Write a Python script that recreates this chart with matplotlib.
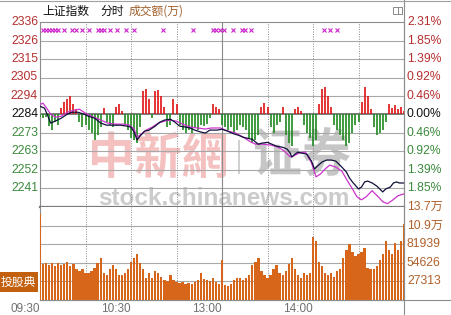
import numpy as np
import matplotlib
matplotlib.use("Agg")
from matplotlib import pyplot as plt
from matplotlib import transforms
from matplotlib.lines import Line2D
from matplotlib.patches import Rectangle, PathPatch
from matplotlib.textpath import TextPath
from matplotlib.font_manager import FontProperties

W, H = 452, 315

# 上证指数 intraday, minutes counted from 09:30 (0..240)
prev_close = 2283.9
price_step = 10.56

price_min = [0, 3, 5, 7, 10, 14, 18, 21, 25, 29, 32, 36, 40, 44, 48, 53, 57, 60, 62, 64,
             66, 69, 72, 76, 79, 82, 86, 89, 92, 96, 99, 102, 106, 109, 112, 117, 120, 124, 127, 131,
             134, 137, 140, 144, 146, 150, 153, 156, 160, 163, 165, 166, 168, 170, 173, 176, 179, 181, 183, 186,
             189, 192, 195, 197, 199, 202, 204, 206, 210, 212, 214, 216, 219, 222, 224, 226, 228, 231, 233, 235,
             237, 240]
price_val = [2288.6, 2287.5, 2283.5, 2279.0, 2280.1, 2281.8, 2284.1, 2285.2, 2285.2, 2284.1,
             2282.9, 2281.8, 2279.0, 2277.8, 2277.8, 2277.8, 2277.3, 2276.7, 2273.9, 2269.4,
             2271.6, 2274.4, 2275.0, 2277.3, 2279.5, 2280.7, 2281.2, 2279.5, 2277.3, 2276.7,
             2276.2, 2275.0, 2273.9, 2273.3, 2275.0, 2275.0, 2275.5, 2274.3, 2273.1, 2272.0,
             2270.9, 2270.3, 2269.7, 2266.9, 2267.5, 2268.0, 2266.9, 2265.8, 2265.2, 2264.1,
             2261.8, 2259.6, 2261.2, 2262.4, 2261.8, 2261.2, 2257.3, 2252.8, 2254.5, 2256.8,
             2257.9, 2257.9, 2257.3, 2255.6, 2253.9, 2251.1, 2247.7, 2245.4, 2241.4, 2242.5,
             2245.4, 2245.9, 2244.8, 2243.1, 2241.4, 2239.7, 2241.4, 2242.5, 2244.8, 2245.4,
             2244.8, 2244.8]

avg_min = [0, 2, 4, 7, 10, 14, 18, 22, 26, 30, 34, 40, 45, 50, 55, 59, 62, 64, 66, 70,
           74, 78, 82, 86, 90, 94, 99, 104, 109, 113, 119, 124, 129, 134, 138, 142, 146, 152, 157, 161,
           165, 167, 171, 175, 179, 182, 185, 188, 191, 195, 199, 202, 206, 209, 212, 215, 219, 223, 226, 229,
           232, 236, 240]
avg_val = [2289.7, 2290.3, 2288.0, 2284.1, 2282.4, 2282.9, 2285.2, 2286.3, 2286.9, 2284.6,
           2282.9, 2280.7, 2278.9, 2278.4, 2278.4, 2277.8, 2275.6, 2271.0, 2272.2, 2275.0,
           2276.7, 2279.0, 2280.1, 2280.7, 2280.1, 2278.4, 2276.7, 2276.2, 2275.6, 2276.2,
           2276.2, 2274.4, 2273.3, 2271.0, 2268.7, 2267.0, 2267.0, 2266.5, 2265.3, 2263.1,
           2259.7, 2260.2, 2261.9, 2262.5, 2256.3, 2248.3, 2250.0, 2252.8, 2255.0, 2253.9,
           2251.6, 2247.1, 2241.4, 2236.9, 2235.2, 2236.9, 2240.4, 2236.9, 2234.1, 2233.0,
           2234.7, 2237.5, 2238.6]

# buy/sell strength bars, every 2 minutes (index points from prev close)
strength = [-1.5, -2.2, -1.5, -6.6, -8.8, -4.4, -6.0, 3.8, 7.4, 8.8,
            10.4, 6.0, 3.0, -4.4, -7.4, -6.0, -8.8, -10.4, -14.8, -11.8,
            -7.4, 3.8, -4.4, -6.0, -7.4, 4.4, 6.0, 2.2, -6.0, -8.8,
            -13.4, -14.8, -16.3, -7.4, 13.4, 14.8, 8.8, -2.2, 13.4, 14.0,
            10.4, 4.4, -7.4, -6.0, 8.8, 6.0, -6.0, -8.8, -10.4, -8.8,
            -10.4, -7.4, -8.8, -6.0, -6.6, -5.2, -2.2, 6.0, 4.4, 3.0,
            -6.0, -7.4, -8.8, -7.4, -10.4, -8.8, -6.0, -7.4, -8.8, -13.4,
            -16.3, -14.8, -11.8, 4.4, 6.6, 4.4, -7.4, -10.4, -6.0, -4.4,
            4.4, -11.8, -16.3, -17.8, 3.0, 4.4, 2.2, -6.0, -10.4, -13.4,
            -17.8, -14.8, 6.0, 14.8, 15.6, 10.4, 4.4, -6.0, -8.8, -11.8,
            -14.8, -17.8, -16.3, -10.4, -6.0, -4.4, 7.4, 15.6, 10.4, 3.0,
            -7.4, -11.8, -10.4, -8.8, -4.4, 6.0, 3.8, 5.2, 3.0, 4.4, 2.2]

# 成交额(万), every 2 minutes
volume = [126000, 53000, 55000, 52000, 55000, 50000, 55000, 52000, 53000, 56000,
          50000, 53000, 45000, 42000, 45000, 40000, 39000, 42000, 47000, 55000,
          62000, 39000, 37000, 45000, 52000, 45000, 36000, 36000, 39000, 45000,
          56000, 62000, 67000, 55000, 45000, 33000, 39000, 33000, 42000, 40000,
          34000, 30000, 28000, 37000, 30000, 27000, 25000, 27000, 24000, 25000,
          24000, 27000, 30000, 40000, 31000, 30000, 28000, 33000, 27000, 24000,
          59000, 22000, 21000, 24000, 30000, 33000, 33000, 30000, 33000, 37000,
          52000, 56000, 62000, 42000, 37000, 33000, 36000, 45000, 52000, 40000,
          36000, 42000, 53000, 62000, 45000, 36000, 33000, 39000, 36000, 40000,
          92000, 86000, 56000, 50000, 39000, 36000, 39000, 34000, 42000, 45000,
          62000, 74000, 82000, 71000, 65000, 67000, 71000, 77000, 47000, 45000,
          46000, 50000, 59000, 68000, 86000, 74000, 67000, 83000, 74000, 86000,
          111000]

mark_min = [2, 4, 6, 8, 10, 12, 16, 21, 24, 28, 32, 38, 40, 42, 46, 51, 57, 62,
            81, 101, 114, 116, 119, 121, 127, 133, 135, 139, 187, 191, 196]

price_labels = ["2336", "2326", "2315", "2305", "2294", "2284", "2273", "2263", "2252", "2241"]
pct_labels = ["2.31%", "1.85%", "1.39%", "0.92%", "0.46%", "0.00%", "0.46%", "0.92%", "1.39%", "1.85%"]
vol_ticks = [136565, 109252, 81939, 54626, 27313]
vol_labels = ["13.7万", "10.9万", "81939", "54626", "27313"]
time_pos = [0, 60, 120, 180]
time_labels = ["09:30", "10:30", "13:00", "14:00"]

RED_T, GREEN_T, BROWN_T = "#b53030", "#3c8a3c", "#b0602a"
NUM = ["Liberation Sans", "Noto Sans CJK SC"]
CJK = ["Noto Sans CJK SC", "DejaVu Sans"]


def fx(px):
    return px / W


def fy(py):
    return 1 - py / H


fig = plt.figure(figsize=(W / 100, H / 100), dpi=100)
fig.patch.set_facecolor("white")

ax = fig.add_axes([fx(40), fy(207), 364 / W, 185 / H])
axv = fig.add_axes([fx(40), fy(300), 364 / W, 93 / H])


def box_text(s, x0, y0, x1, y1, color, family):
    # glyph outline stretched into a pixel box (watermark)
    tp = TextPath((0, 0), s, size=1, prop=FontProperties(family=family, weight="bold"))
    e = tp.get_extents()
    tr = (transforms.Affine2D().translate(-e.x0, -e.y0)
          .scale((x1 - x0) / e.width, (y1 - y0) / e.height)
          .translate(x0, H - y1).scale(1 / W, 1 / H) + fig.transFigure)
    ax.add_patch(PathPatch(tp, transform=tr, facecolor=color, lw=0, zorder=0, clip_on=False))


lo = prev_close - 5 * price_step
hi = prev_close + 5 * price_step
for a in (ax, axv):
    a.set_xlim(0, 240)
    a.set_xticks([])
    a.set_yticks([])
    for s in a.spines.values():
        s.set_color("#8c8c8c")
        s.set_linewidth(0.8)
ax.set_ylim(lo, hi)
ax.spines["bottom"].set_linewidth(1.6)
ax.spines["bottom"].set_color("#7a7a7a")
axv.spines["top"].set_visible(False)
axv.set_ylim(0, vol_ticks[0])

# grid
levels = [prev_close + k * price_step for k in range(5, -5, -1)]
for lv in levels[1:]:
    if abs(lv - prev_close) < 1e-6:
        ax.axhline(lv, color="#5a5a5a", lw=1.1, zorder=2)
    else:
        ax.axhline(lv, color="#a8a8a8", lw=0.8, zorder=1)
for vt in vol_ticks[1:]:
    axv.axhline(vt, color="#a8a8a8", lw=0.8, zorder=1)
for a in (ax, axv):
    for m in [30, 60, 90, 150, 180, 210]:
        a.axvline(m, color="#8a8a8a", lw=0.7, ls=(0, (1, 1.5)), zorder=1)
    a.axvline(120, color="#8a8a8a", lw=0.8, zorder=1)

# watermark
box_text("中新網", 92, 131, 226, 178, "#f4c0c0", "Noto Sans CJK TC")
box_text("证券", 255, 127, 350, 176, "#c6c6c6", "Noto Sans CJK SC")
ax.add_patch(Rectangle((fx(238), fy(174)), 2 / W, 34 / H, transform=fig.transFigure,
                       facecolor="#d0d0d0", lw=0, zorder=0, clip_on=False))
ax.text(fx(224), fy(205), "stock.chinanews.com", transform=fig.transFigure, fontsize=17.5,
        fontweight="bold", color="#cbcbcb", family=["Liberation Sans"],
        ha="center", va="baseline", zorder=0)

# strength bars
sx = np.arange(len(strength)) * 2
st = np.array(strength)
up = st > 0
ax.vlines(sx[up], prev_close, prev_close + st[up], color="#e01010", lw=1.2, zorder=3)
ax.vlines(sx[~up], prev_close, prev_close + st[~up], color="#1f8a1f", lw=1.2, zorder=3)

# lines
ax.plot(avg_min, avg_val, color="#cc33cc", lw=0.9, zorder=4)
ax.plot(price_min, price_val, color="#10103a", lw=0.9, zorder=5)

# event markers
trans_m = transforms.blended_transform_factory(ax.transData, ax.transAxes)
ax.plot(mark_min, [0.955] * len(mark_min), ls="none", marker="x", ms=3.2, mew=0.8,
        color="#cc22cc", transform=trans_m, clip_on=False, zorder=5)

# volume bars
vx = np.arange(len(volume)) * 2
axv.bar(vx, volume, width=1.5, color="#d8661a", edgecolor="none", zorder=3)

# axis labels
tl = transforms.blended_transform_factory(fig.transFigure, ax.transData)
for i, (lv, lab, pl) in enumerate(zip(levels, price_labels, pct_labels)):
    c = RED_T if i < 5 else ("#111111" if i == 5 else GREEN_T)
    ax.text(fx(38), lv, lab, transform=tl, ha="right", va="center", fontsize=8.8,
            color=c, family=NUM)
    ax.text(fx(407), lv, pl, transform=tl, ha="left", va="center", fontsize=8.7,
            color=c, family=NUM)
tv = transforms.blended_transform_factory(fig.transFigure, axv.transData)
for vt, lab in zip(vol_ticks, vol_labels):
    axv.text(fx(407), vt, lab, transform=tv, ha="left", va="center", fontsize=8.7,
             color=BROWN_T, family=NUM)
tt = transforms.blended_transform_factory(axv.transData, fig.transFigure)
for tp, lab in zip(time_pos, time_labels):
    axv.text(tp - 0.3, fy(309), lab, transform=tt, ha="right", va="center",
             fontsize=8.5, color="#707070", family=NUM, clip_on=False)

# header
fig.text(fx(42), fy(11), "上证指数", fontsize=8.5, color="#111111", family=CJK,
         ha="left", va="center")
fig.text(fx(100), fy(11), "分时", fontsize=8.5, color="#111111", family=CJK,
         ha="left", va="center")
fig.text(fx(129), fy(11), "成交额(万)", fontsize=8.5, color="#a0602a", family=CJK,
         ha="left", va="center")
fig.add_artist(Rectangle((fx(393), fy(14)), 9 / W, 7 / H, fill=False,
                         edgecolor="#8a8a8a", lw=0.7))
fig.add_artist(Line2D([fx(398), fx(398)], [fy(14), fy(7)], color="#8a8a8a", lw=0.7))

# frame lines outside the plot
fig.add_artist(Line2D([fx(404), fx(404)], [0, 1], color="#8c8c8c", lw=0.8))
fig.add_artist(Line2D([fx(40), 1], [fy(300), fy(300)], color="#8c8c8c", lw=0.8))
fig.add_artist(Line2D([0, 1], [fy(1), fy(1)], color="#a0a0a0", lw=0.8))

# 投股典 tag
fig.add_artist(Rectangle((0, fy(292)), 38 / W, 20 / H, color="#c2600e", lw=0))
fig.text(fx(18), fy(282), "投股典", fontsize=8.5, color="white", family=CJK,
         ha="center", va="center")

fig.savefig("out.png", dpi=100)
